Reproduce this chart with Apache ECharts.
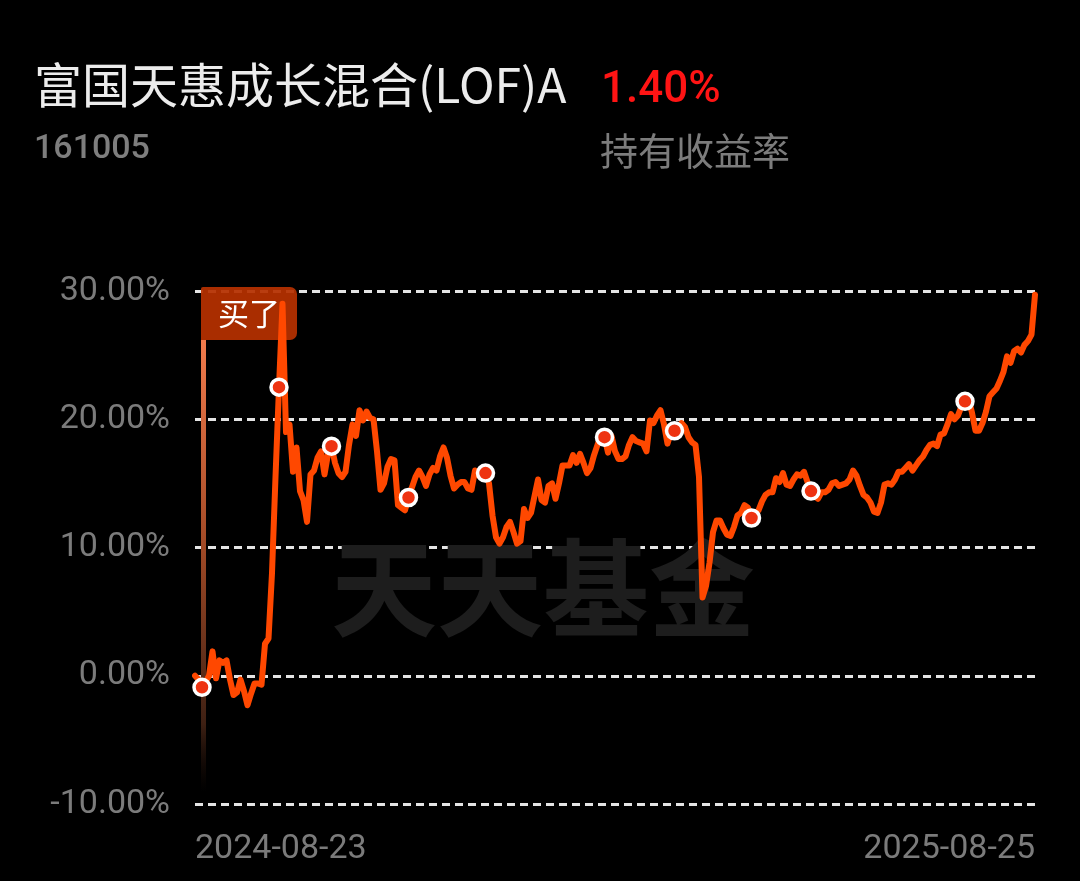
<!DOCTYPE html>
<html>
<head>
<meta charset="utf-8">
<script src="https://cdn.jsdelivr.net/npm/echarts@6/dist/echarts.min.js"></script>
<style>
html,body{margin:0;padding:0;background:#000;}
#chart{width:1080px;height:881px;}
</style>
</head>
<body>
<div id="chart"></div>
<script>
// Holding-return (%) per trading day, from 2024-08-23 to 2025-08-25
const xLabels = ['2024-08-23', '2025-08-25'];
const yTicks = [-10, 0, 10, 20, 30];
const returns = [
  0.0, -0.3, -0.9, -0.5, 0.0, 1.9, -0.2, 1.2, 1.0, 1.2,
  -0.3, -1.5, -1.3, -0.3, -1.2, -2.3, -1.4, -0.6, -0.6, -0.7,
  2.5, 2.9, 8.0, 15.5, 22.5, 29.0, 19.0, 19.6, 15.9, 17.8,
  14.4, 13.7, 12.0, 15.7, 16.0, 17.0, 17.5, 15.7, 17.3, 17.9,
  16.6, 15.8, 15.5, 15.9, 18.0, 19.6, 18.7, 20.7, 19.9, 20.6,
  20.1, 20.0, 17.5, 14.5, 15.0, 16.3, 16.9, 16.8, 13.3, 13.1,
  12.9, 13.9, 14.7, 15.5, 16.0, 15.5, 14.8, 15.7, 16.2, 16.0,
  17.1, 17.8, 17.0, 15.6, 14.6, 14.9, 15.1, 15.1, 14.6, 14.5,
  16.0, 15.6, 15.7, 15.8, 15.0, 12.5, 10.8, 10.3, 10.8, 11.6,
  12.0, 11.2, 10.3, 10.5, 13.0, 12.3, 12.7, 14.0, 15.3, 13.7,
  13.5, 14.8, 15.0, 13.8, 15.0, 16.4, 16.4, 16.4, 17.2, 16.6,
  17.3, 16.6, 15.8, 16.2, 17.2, 18.0, 18.7, 18.6, 17.4, 18.7,
  17.5, 16.9, 16.9, 17.1, 18.0, 18.6, 18.3, 18.2, 18.1, 17.5,
  19.9, 19.7, 20.3, 20.7, 19.6, 18.1, 19.0, 19.1, 19.4, 19.7,
  19.4, 18.6, 18.2, 18.0, 15.5, 6.1, 7.0, 8.8, 11.2, 12.1,
  12.1, 11.5, 11.0, 10.9, 11.6, 12.5, 12.7, 13.3, 13.1, 12.3,
  12.6, 12.9, 13.6, 14.1, 14.3, 14.3, 15.4, 15.1, 15.8, 14.9,
  14.8, 15.3, 15.7, 15.6, 15.9, 15.1, 14.4, 14.0, 13.8, 14.3,
  14.3, 14.5, 15.0, 15.1, 14.8, 14.9, 15.0, 15.3, 16.0, 15.6,
  14.8, 14.1, 13.9, 13.5, 12.8, 12.7, 13.5, 14.9, 15.0, 14.9,
  15.3, 15.9, 15.9, 16.2, 16.5, 16.0, 16.4, 16.8, 17.1, 17.6,
  18.0, 18.1, 17.9, 18.8, 18.9, 19.6, 20.4, 20.0, 20.3, 21.0,
  21.4, 21.6, 20.5, 19.1, 19.1, 19.7, 20.6, 21.8, 22.1, 22.4,
  23.0, 23.7, 24.9, 24.4, 25.3, 25.5, 25.2, 25.8, 26.1, 26.6,
  29.7
];
// trading-day indices that carry a white-ringed marker
const markerDays = [2, 24, 39, 61, 83, 117, 137, 159, 176, 220];
const buyDay = 2;
const buyText = '买了';

const fundName = '富国天惠成长混合(LOF)A';
const fundCode = '161005';
const holdReturn = '1.40%';
const holdLabel = '持有收益率';
const watermark = '天天基金';

const lastDay = returns.length - 1;
const lineData = returns.map((v, i) => [i, v]);
const markerData = markerDays.map(d => [d, returns[d]]);

const chart = echarts.init(document.getElementById('chart'), null, {renderer: 'canvas'});
const cjk = '"Noto Sans CJK SC", "Noto Sans", sans-serif';
const num = 'Roboto, "Noto Sans", sans-serif';

chart.setOption({
  backgroundColor: '#000',
  animation: false,
  title: [
    {text: fundName, left: 29, top: 56, textStyle: {color: '#ececec', fontSize: 48, fontWeight: 'normal', fontFamily: cjk}},
    {text: holdReturn, left: 596, top: 64, textStyle: {color: '#ff1414', fontSize: 44, fontWeight: 500, fontFamily: num}},
    {text: fundCode, left: 29, top: 127, textStyle: {color: '#7e7e7e', fontSize: 34, fontWeight: 500, fontFamily: num}},
    {text: holdLabel, left: 595, top: 127, textStyle: {color: '#7c7c7c', fontSize: 38, fontWeight: 'normal', fontFamily: cjk}},
    {text: watermark, left: 326, top: 530, z: 0, textStyle: {color: '#1d1d1d', fontSize: 106, fontWeight: 'bold', fontFamily: cjk}}
  ],
  grid: {left: 195, right: 45, top: 291, bottom: 77, containLabel: false},
  xAxis: {
    type: 'value', min: 0, max: lastDay, interval: lastDay,
    axisLine: {show: false}, axisTick: {show: false}, splitLine: {show: false},
    axisLabel: {
      show: true, margin: 28, color: '#7b7b7b', fontSize: 34, fontFamily: num,
      showMinLabel: true, showMaxLabel: true,
      alignMinLabel: 'left', alignMaxLabel: 'right',
      formatter: v => (v === 0 ? xLabels[0] : xLabels[1])
    }
  },
  yAxis: {
    type: 'value', min: yTicks[0], max: yTicks[yTicks.length - 1], interval: 10,
    axisLine: {show: false}, axisTick: {show: false},
    axisLabel: {margin: 25, color: '#7b7b7b', fontSize: 34, fontFamily: num, formatter: v => v.toFixed(2) + '%'},
    splitLine: {show: true, lineStyle: {color: '#e4e4e4', width: 3, type: [8, 5]}}
  },
  series: [
    {
      type: 'custom', z: 1, silent: true,
      data: [[buyDay]],
      renderItem: function (params, api) {
        const top = api.coord([api.value(0), yTicks[yTicks.length - 1]]);
        const bot = api.coord([api.value(0), yTicks[0]]);
        const x = top[0] - 1;
        const boxH = 53;
        return {
          type: 'group',
          children: [
            {
              type: 'rect',
              shape: {x: x, y: top[1] + boxH - 4, width: 5, height: bot[1] - top[1] - boxH - 8},
              style: {
                fill: new echarts.graphic.LinearGradient(0, 0, 0, 1, [
                  {offset: 0, color: '#f27b4c'},
                  {offset: 0.45, color: '#a24a26'},
                  {offset: 0.85, color: '#3e2013'},
                  {offset: 1, color: 'rgba(30,15,8,0)'}
                ])
              }
            },
            {
              type: 'rect',
              shape: {x: x, y: top[1] - 4, width: 96, height: boxH, r: [2, 7, 7, 0]},
              style: {fill: 'rgba(182,48,0,0.93)'}
            },
            {
              type: 'text',
              style: {
                text: buyText, x: x + 48, y: top[1] + boxH / 2 - 4,
                fill: '#ffffff', fontSize: 31, fontFamily: cjk,
                align: 'center', verticalAlign: 'middle'
              }
            }
          ]
        };
      }
    },
    {
      type: 'line', z: 3,
      data: lineData,
      showSymbol: false, smooth: false,
      lineStyle: {color: '#ff4800', width: 6, join: 'round', cap: 'round'}
    },
    {
      type: 'scatter', z: 4,
      data: markerData,
      symbol: 'circle', symbolSize: 16,
      itemStyle: {color: '#ee3311', borderColor: '#ffffff', borderWidth: 3.5, opacity: 1}
    }
  ]
});
</script>
</body>
</html>
